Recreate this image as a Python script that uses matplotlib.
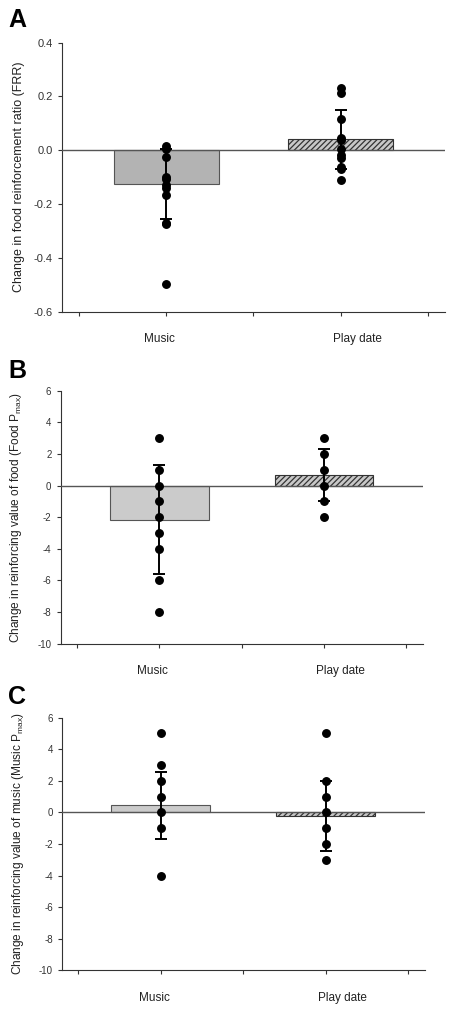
import matplotlib
matplotlib.use("Agg")
import matplotlib.pyplot as plt
import numpy as np

plt.rcParams['font.family'] = ['Liberation Sans', 'DejaVu Sans']
plt.rcParams['axes.unicode_minus'] = False
plt.rcParams['hatch.linewidth'] = 0.9

groups = ["Music", "Play date"]

# panel A: change in food reinforcement ratio
mean_A = [-0.125, 0.040]
sd_A = [0.130, 0.110]
music_A = [0.015, 0.005, -0.027, -0.099, -0.107, -0.131, -0.142, -0.167, -0.270, -0.276, -0.499]
play_A = [0.231, 0.214, 0.115, 0.047, 0.038, 0.003, -0.019, -0.028, -0.062, -0.068, -0.111]

# panel B: change in food Pmax
mean_B = [-2.15, 0.67]
sd_B = [3.48, 1.63]
music_B = [3, 1, 0, -1, -2, -3, -4, -6, -8]
play_B = [3, 2, 1, 0, -1, -2]

# panel C: change in music Pmax
mean_C = [0.44, -0.23]
sd_C = [2.11, 2.23]
music_C = [5, 3, 2, 1, 0, -1, -4]
play_C = [5, 2, 1, 0, -1, -2, -3]

fig = plt.figure(figsize=(4.55, 10.15), dpi=100)

panels = [
    ("A", [0.136, 0.693, 0.842, 0.265], mean_A, sd_A, [music_A, play_A],
     (-0.6, 0.4), np.arange(-0.6, 0.41, 0.2), "%.1f",
     "Change in food reinforcement ratio (FRR)", '#b3b3b3', 9, 8, -0.097, 0.992),
    ("B", [0.133, 0.366, 0.796, 0.249], mean_B, sd_B, [music_B, play_B],
     (-10, 6), np.arange(-10, 7, 2), "%d",
     r"Change in reinforcing value of food (Food $\mathregular{P_{max}}$)", '#cbcbcb', 8.6, 7, -0.102, 0.646),
    ("C", [0.136, 0.044, 0.798, 0.249], mean_C, sd_C, [music_C, play_C],
     (-10, 6), np.arange(-10, 7, 2), "%d",
     r"Change in reinforcing value of music (Music $\mathregular{P_{max}}$)", '#cbcbcb', 8.6, 7, -0.100, 0.325),
]

x = [1, 2]
for letter, rect, means, sds, pts, ylim, yticks, fmt, ylabel, mcol, lfs, tfs, lx, ly in panels:
    ax = fig.add_axes(rect)
    ax.bar(x[0], means[0], width=0.6, color=mcol, edgecolor='#555555', linewidth=0.8, zorder=2)
    ax.bar(x[1], means[1], width=0.6, color='#c8c8c8', edgecolor='#333333', linewidth=0.8,
           hatch='//////', zorder=2)
    ax.axhline(0, color='#555555', linewidth=1.0, zorder=3)
    ax.errorbar(x, means, yerr=sds, fmt='none', ecolor='black', elinewidth=1.4,
                capsize=4.5, capthick=1.4, zorder=4)
    for xi, vals in zip(x, pts):
        ax.plot([xi] * len(vals), vals, 'o', color='black', markersize=5.4, zorder=5)

    ax.set_xlim(0.4, 2.6)
    ax.set_ylim(*ylim)
    ax.set_yticks(yticks)
    ax.set_yticklabels([fmt % v for v in yticks])
    ax.set_xticks([0.5, 1, 1.5, 2, 2.5])
    ax.set_xticklabels([])
    for s in ['top', 'right']:
        ax.spines[s].set_visible(False)
    for s in ['left', 'bottom']:
        ax.spines[s].set_color('#333333')
        ax.spines[s].set_linewidth(0.8)
    ax.tick_params(direction='out', length=3, width=0.8, colors='#333333', labelsize=tfs)

    ax.set_ylabel(ylabel, fontsize=lfs, color='#222222')
    ax.yaxis.set_label_coords(lx, 0.5)

    for xi, name in zip([0.96, 2.1], groups):
        ax.annotate(name, xy=(xi, 0), xycoords=('data', 'axes fraction'),
                    xytext=(0, -20), textcoords='offset points',
                    ha='center', va='center', fontsize=8.5, color='#222222')

    fig.text(0.018, ly, letter, fontsize=18, fontweight='bold', va='top', ha='left')

fig.savefig("out.png", dpi=100)
